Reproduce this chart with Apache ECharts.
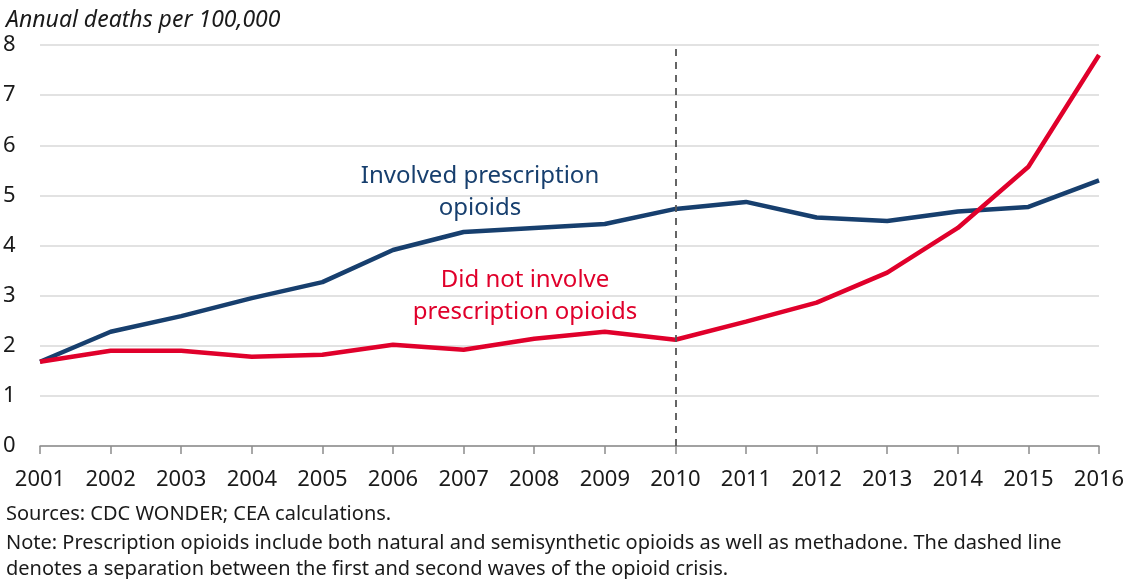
<!DOCTYPE html>
<html>
<head>
<meta charset="utf-8">
<script src="https://cdn.jsdelivr.net/npm/echarts@6/dist/echarts.min.js"></script>
<style>
  html, body { margin: 0; padding: 0; background: #fff; }
  #chart { width: 1128px; height: 579px; }
</style>
</head>
<body>
<div id="chart"></div>
<script>
// Opioid overdose death rates, 2001–2016
const years = ['2001','2002','2003','2004','2005','2006','2007','2008',
               '2009','2010','2011','2012','2013','2014','2015','2016'];
const involvedRx = [1.68, 2.28, 2.59, 2.95, 3.27, 3.91, 4.27, 4.35,
                    4.43, 4.73, 4.87, 4.56, 4.49, 4.68, 4.77, 5.30];
const notInvolvedRx = [1.68, 1.90, 1.90, 1.78, 1.82, 2.02, 1.92, 2.14,
                       2.28, 2.12, 2.48, 2.86, 3.46, 4.35, 5.57, 7.80];
const yTicks = [0, 1, 2, 3, 4, 5, 6, 7, 8];
const waveSplitYear = '2010';

const FONT = '"Source Sans Pro", "Noto Sans", "Open Sans", sans-serif';
const BLUE = '#173f6e';
const RED = '#e0002b';

const chart = echarts.init(document.getElementById('chart'), null, { renderer: 'canvas' });

chart.setOption({
  animation: false,
  backgroundColor: '#fff',
  grid: { left: 40, right: 29, top: 45, bottom: 133, containLabel: false },
  xAxis: {
    type: 'category',
    data: years,
    boundaryGap: false,
    axisLine: { lineStyle: { color: '#8c8c8c', width: 1.5 } },
    axisTick: { show: true, length: 8, lineStyle: { color: '#8c8c8c', width: 1.5 } },
    axisLabel: { color: '#1a1a1a', fontFamily: FONT, fontSize: 22, margin: 23 },
    splitLine: { show: false }
  },
  yAxis: {
    type: 'value',
    min: yTicks[0],
    max: yTicks[yTicks.length - 1],
    interval: 1,
    axisLine: { show: false },
    axisTick: { show: false },
    axisLabel: {
      color: '#1a1a1a', fontFamily: FONT, fontSize: 22,
      align: 'left', margin: 37,
      formatter: v => String(v)
    },
    splitLine: { lineStyle: { color: '#d9d9d9', width: 1.5 } }
  },
  series: [
    {
      name: 'Involved prescription opioids',
      type: 'line',
      data: involvedRx,
      symbol: 'none',
      lineStyle: { color: BLUE, width: 4.5 },
      z: 3,
      markLine: {
        silent: true,
        symbol: 'none',
        label: { show: false },
        lineStyle: { color: '#555555', type: [7, 6], width: 1.8 },
        data: [{ xAxis: waveSplitYear }]
      }
    },
    {
      name: 'Did not involve prescription opioids',
      type: 'line',
      data: notInvolvedRx,
      symbol: 'none',
      lineStyle: { color: RED, width: 4.5 },
      z: 4
    }
  ],
  graphic: [
    {
      type: 'text', left: 6, top: 9,
      style: { text: 'Annual deaths per 100,000', fill: '#1a1a1a',
               font: 'italic 23px ' + FONT }
    },
    {
      type: 'text', x: 480, y: 160,
      style: { text: 'Involved prescription\nopioids', fill: BLUE,
               font: '24px ' + FONT, textAlign: 'center', textVerticalAlign: 'top',
               lineHeight: 32 }
    },
    {
      type: 'text', x: 525, y: 264,
      style: { text: 'Did not involve\nprescription opioids', fill: RED,
               font: '24px ' + FONT, textAlign: 'center', textVerticalAlign: 'top',
               lineHeight: 32 }
    },
    {
      type: 'text', left: 6, top: 504,
      style: { text: 'Sources: CDC WONDER; CEA calculations.', fill: '#1a1a1a',
               font: '20px ' + FONT }
    },
    {
      type: 'text', left: 6, top: 530,
      style: {
        text: 'Note: Prescription opioids include both natural and semisynthetic opioids as well as methadone. The dashed line\ndenotes a separation between the first and second waves of the opioid crisis.',
        fill: '#1a1a1a', font: '20px ' + FONT, lineHeight: 26
      }
    }
  ]
});
</script>
</body>
</html>
